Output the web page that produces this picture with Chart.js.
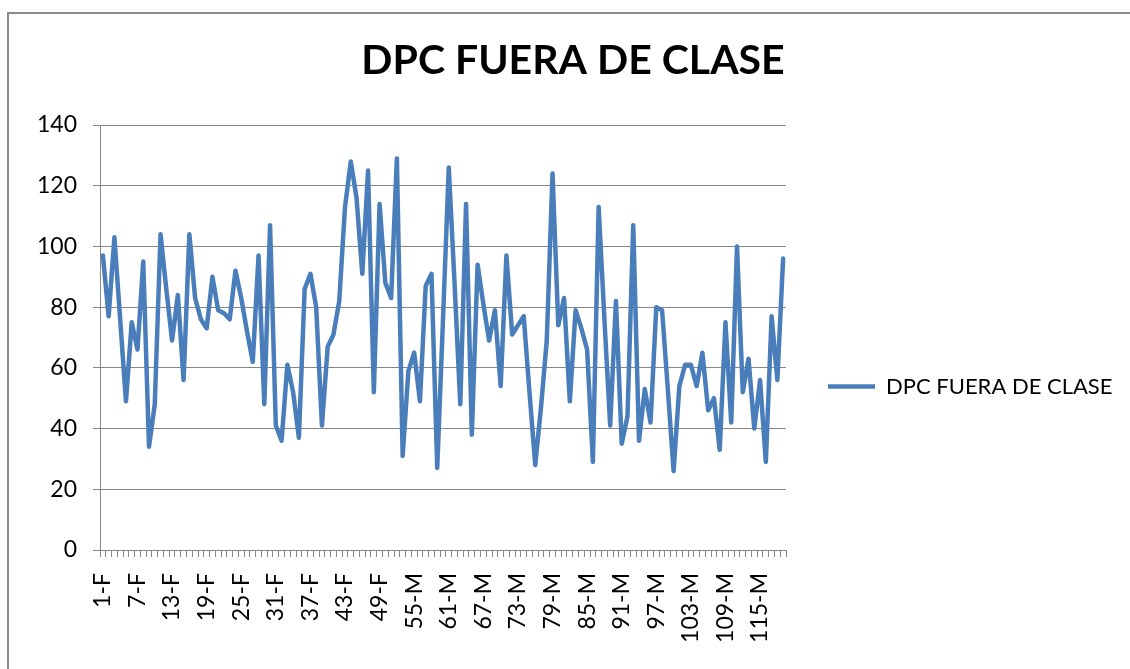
<!DOCTYPE html>
<html>
<head>
<meta charset="utf-8">
<script src="https://cdn.jsdelivr.net/npm/chart.js@4.4.1/dist/chart.umd.min.js"></script>
<style>
  html, body { margin: 0; padding: 0; background: #ffffff; }
  #wrap { width: 1130px; height: 669px; position: relative; }
</style>
</head>
<body>
<div id="wrap"><canvas id="c"></canvas></div>
<script>
const chartTitle = 'DPC FUERA DE CLASE';
const seriesName = 'DPC FUERA DE CLASE';

const categories = [
  '1-F','2-F','3-F','4-F','5-F','6-F','7-F','8-F','9-F','10-F',
  '11-F','12-F','13-F','14-F','15-F','16-F','17-F','18-F','19-F','20-F',
  '21-F','22-F','23-F','24-F','25-F','26-F','27-F','28-F','29-F','30-F',
  '31-F','32-F','33-F','34-F','35-F','36-F','37-F','38-F','39-F','40-F',
  '41-F','42-F','43-F','44-F','45-F','46-F','47-F','48-F','49-F','50-F',
  '51-F','52-F','53-M','54-M','55-M','56-M','57-M','58-M','59-M','60-M',
  '61-M','62-M','63-M','64-M','65-M','66-M','67-M','68-M','69-M','70-M',
  '71-M','72-M','73-M','74-M','75-M','76-M','77-M','78-M','79-M','80-M',
  '81-M','82-M','83-M','84-M','85-M','86-M','87-M','88-M','89-M','90-M',
  '91-M','92-M','93-M','94-M','95-M','96-M','97-M','98-M','99-M','100-M',
  '101-M','102-M','103-M','104-M','105-M','106-M','107-M','108-M','109-M','110-M',
  '111-M','112-M','113-M','114-M','115-M','116-M','117-M','118-M','119-M'
];

const dpcValues = [
  97, 77, 103, 76, 49, 75, 66, 95, 34, 48,
  104, 86, 69, 84, 56, 104, 83, 76, 73, 90,
  79, 78, 76, 92, 83, 72, 62, 97, 48, 107,
  41, 36, 61, 52, 37, 86, 91, 80, 41, 67,
  71, 82, 113, 128, 116, 91, 125, 52, 114, 88,
  83, 129, 31, 59, 65, 49, 87, 91, 27, 76,
  126, 88, 48, 114, 38, 94, 81, 69, 79, 54,
  97, 71, 74, 77, 52, 28, 47, 69, 124, 74,
  83, 49, 79, 73, 66, 29, 113, 76, 41, 82,
  35, 44, 107, 36, 53, 42, 80, 79, 53, 26,
  54, 61, 61, 54, 65, 46, 50, 33, 75, 42,
  100, 52, 63, 40, 56, 29, 77, 56, 96
];

const yTicks = [0, 20, 40, 60, 80, 100, 120, 140];
const labelEvery = 6;

const LINE_COLOR = '#4A7EBB';
const GRID_COLOR = '#868686';
const FONT = 'Lato, "Open Sans", "Liberation Sans", sans-serif';
const PLOT_RIGHT = 786;

const frame = {
  id: 'frame',
  beforeDraw(chart) {
    const ctx = chart.ctx;
    ctx.save();
    ctx.fillStyle = '#ffffff';
    ctx.fillRect(0, 0, chart.width, chart.height);
    ctx.strokeStyle = '#8c8c8c';
    ctx.lineWidth = 2;
    ctx.strokeRect(8, 13, chart.width + 20, chart.height + 20);
    ctx.restore();
  },
  afterLayout(chart) {
    const t = chart.titleBlock;
    if (t) { t.left = 16; t.right = 1130; }
    const L = chart.legend;
    if (L) { L.top += 52; L.bottom += 52; }
  }
};

const chart = new Chart(document.getElementById('c'), {
  type: 'line',
  data: {
    labels: categories,
    datasets: [{
      label: seriesName,
      data: dpcValues,
      borderColor: LINE_COLOR,
      backgroundColor: LINE_COLOR,
      borderWidth: 4.5,
      pointRadius: 0,
      pointHoverRadius: 0,
      tension: 0,
      borderJoinStyle: 'round',
      borderCapStyle: 'round',
      fill: false
    }]
  },
  options: {
    responsive: true,
    maintainAspectRatio: false,
    animation: false,
    layout: { padding: { left: 0, right: 0, top: 0, bottom: 0 } },
    plugins: {
      title: {
        display: true,
        text: chartTitle,
        color: '#000000',
        font: { family: FONT, size: 41, weight: 'bold', lineHeight: 1.2 },
        padding: { top: 36, bottom: 39.8 }
      },
      legend: {
        display: true,
        position: 'right',
        maxWidth: 500,
        labels: {
          color: '#000000',
          font: { family: FONT, size: 22 },
          usePointStyle: true,
          pointStyle: 'line',
          pointStyleWidth: 47,
          padding: 42
        }
      },
      tooltip: { enabled: false }
    },
    scales: {
      x: {
        type: 'category',
        offset: true,
        afterFit(s) { s.height = 119; },
        grid: {
          display: true,
          offset: true,
          drawOnChartArea: false,
          drawTicks: true,
          tickLength: 7,
          color: GRID_COLOR
        },
        border: { display: true, color: GRID_COLOR, width: 1 },
        ticks: {
          autoSkip: false,
          maxRotation: 90,
          minRotation: 90,
          padding: 16,
          color: '#000000',
          font: { family: FONT, size: 23 },
          callback: (v, i) => (i % labelEvery === 0 ? categories[i] : '')
        }
      },
      y: {
        min: yTicks[0],
        max: yTicks[yTicks.length - 1],
        afterFit(s) { s.width = 100; },
        afterBuildTicks(s) { s.ticks = yTicks.map(v => ({ value: v })); },
        grid: {
          display: true,
          color: GRID_COLOR,
          tickLength: 7,
          drawTicks: true
        },
        border: { display: true, color: GRID_COLOR, width: 1 },
        ticks: {
          padding: 16,
          color: '#000000',
          font: { family: FONT, size: 23 }
        }
      }
    }
  },
  plugins: [frame]
});

function fitRight() {
  for (let k = 0; k < 3; k++) {
    const diff = chart.chartArea.right - PLOT_RIGHT;
    if (Math.abs(diff) < 0.5) break;
    chart.options.layout.padding.right = Math.max(0, chart.options.layout.padding.right + diff);
    chart.update('none');
  }
}
fitRight();
if (document.fonts && document.fonts.ready) {
  document.fonts.ready.then(() => { chart.update('none'); fitRight(); });
}
</script>
</body>
</html>
